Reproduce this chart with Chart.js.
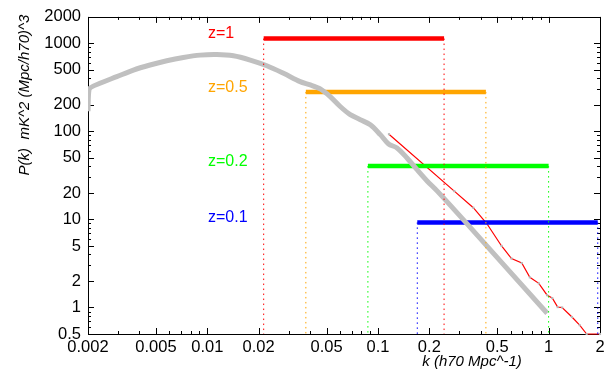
<!DOCTYPE html>
<html>
<head>
<meta charset="utf-8">
<script src="https://cdn.jsdelivr.net/npm/chart.js@4"></script>
<style>
  html, body { margin: 0; padding: 0; background: #fff; }
  canvas { display: block; }
</style>
</head>
<body>
<canvas id="pkChart" width="615" height="372"></canvas>
<script>
// tick labels
const xTicks = [0.002, 0.005, 0.01, 0.02, 0.05, 0.1, 0.2, 0.5, 1, 2];
const yTicks = [0.5, 1, 2, 5, 10, 20, 50, 100, 200, 500, 1000, 2000];

// grey model power spectrum
const modelK = [0.002, 0.00203, 0.00235, 0.00295, 0.00369, 0.00462, 0.00579, 0.00724, 0.00908, 0.01137,
    0.01423, 0.01785, 0.02234, 0.02796, 0.035, 0.0401, 0.0459, 0.0525, 0.0601, 0.0688, 0.0788,
    0.0902, 0.1032, 0.1154, 0.1293, 0.148, 0.169, 0.194, 0.222, 0.333, 0.98];
const modelP = [170, 301, 352, 419, 498, 568, 635, 692, 736, 748,
    723, 647, 557, 457, 368, 338, 304, 249, 192, 155, 136,
    119, 92, 72, 65, 50, 37, 27.4, 21.1, 8.9, 0.86];

// thin red measured curve
const measK = [0.116, 0.28, 0.362, 0.434, 0.53, 0.606, 0.696, 0.776, 0.876, 0.98, 1.05, 1.13, 1.2, 1.37, 1.52, 1.67, 2.0];
const measP = [93, 21, 13.6, 9.0, 5.0, 3.6, 3.2, 2.2, 1.88, 1.38, 1.28, 1.01, 1.0, 0.78, 0.63, 0.5, 0.5];

// redshift bands
const zLabels = ['z=1', 'z=0.5', 'z=0.2', 'z=0.1'];
const zColors = ['#ff0000', '#ffa500', '#00ff00', '#0000ff'];
const zLevel = [1135, 281, 40.4, 9.26];
const zKmin = [0.0214, 0.0378, 0.0873, 0.170];
const zKmax = [0.244, 0.429, 1.0, 1.94];
const zLabelP = [1280, 315, 46, 10.5];
const zLabelK = 0.0101;

const yMin = 0.5;
const fontFamily = '"Liberation Sans", Arial, sans-serif';

const datasets = [];

zLabels.forEach((name, i) => {
    // dotted drops
    [zKmin[i], zKmax[i]].forEach(k => {
        datasets.push({
            data: [{ x: k, y: zLevel[i] }, { x: k, y: yMin }],
            borderColor: zColors[i],
            borderWidth: 1,
            borderDash: [1.5, 3.5],
            pointRadius: 0
        });
    });
});

datasets.push({
    data: modelK.map((k, i) => ({ x: k, y: modelP[i] })),
    borderColor: '#c0c0c0',
    borderWidth: 5,
    pointRadius: 0,
    tension: 0.3
});

zLabels.forEach((name, i) => {
    datasets.push({
        data: [{ x: zKmin[i], y: zLevel[i] }, { x: zKmax[i], y: zLevel[i] }],
        borderColor: zColors[i],
        borderWidth: 4.5,
        borderCapStyle: 'butt',
        pointRadius: 0
    });
});

datasets.push({
    data: measK.map((k, i) => ({ x: k, y: measP[i] })),
    borderColor: '#ff0000',
    borderWidth: 1.2,
    clip: 2,
    pointStyle: 'rect',
    pointRadius: 1.5,
    pointBackgroundColor: '#b8b8b8',
    pointBorderWidth: 0
});

const logTicks = (min, max) => {
    const out = [];
    for (let n = Math.floor(Math.log10(min)); n <= Math.ceil(Math.log10(max)); n++) {
        for (let m = 1; m <= 9; m++) {
            const v = +(m * Math.pow(10, n)).toPrecision(6);
            if (v >= min && v <= max) out.push(v);
        }
    }
    return out;
};

const decorations = {
    id: 'decorations',
    beforeDatasetsDraw(chart) {
        const ctx = chart.ctx;
        const area = chart.chartArea;
        const xs = chart.scales.x;
        const ys = chart.scales.y;
        ctx.save();

        // frame
        ctx.strokeStyle = '#000';
        ctx.lineWidth = 1;
        ctx.strokeRect(Math.round(area.left) + 0.5, Math.round(area.top) + 0.5,
            Math.round(area.right - area.left), Math.round(area.bottom - area.top));

        // inner log ticks on all four sides
        ctx.beginPath();
        logTicks(xs.min, xs.max).forEach(v => {
            const len = xTicks.includes(v) ? 6 : 3;
            const px = Math.round(xs.getPixelForValue(v)) + 0.5;
            ctx.moveTo(px, area.bottom); ctx.lineTo(px, area.bottom - len);
            ctx.moveTo(px, area.top); ctx.lineTo(px, area.top + len);
        });
        logTicks(ys.min, ys.max).forEach(v => {
            const len = yTicks.includes(v) ? 6 : 3;
            const py = Math.round(ys.getPixelForValue(v)) + 0.5;
            ctx.moveTo(area.left, py); ctx.lineTo(area.left + len, py);
            ctx.moveTo(area.right, py); ctx.lineTo(area.right - len, py);
        });
        ctx.stroke();
        ctx.restore();
    },
    afterDraw(chart) {
        const ctx = chart.ctx;
        const xs = chart.scales.x;
        const ys = chart.scales.y;
        ctx.save();

        // redshift labels
        ctx.font = '16px ' + fontFamily;
        ctx.textAlign = 'left';
        ctx.textBaseline = 'middle';
        zLabels.forEach((name, i) => {
            ctx.fillStyle = zColors[i];
            ctx.fillText(name, xs.getPixelForValue(zLabelK), ys.getPixelForValue(zLabelP[i]));
        });

        // axis titles
        ctx.fillStyle = '#000';
        ctx.font = 'italic 15px ' + fontFamily;
        ctx.textAlign = 'center';
        ctx.fillText('k (h70 Mpc^-1)', 472, 362);
        ctx.translate(25, 95);
        ctx.rotate(-Math.PI / 2);
        ctx.fillText('P(k)  mK^2 (Mpc/h70)^3', 0, 0);

        ctx.restore();
    }
};

new Chart(document.getElementById('pkChart'), {
    type: 'line',
    data: { datasets: datasets },
    options: {
        responsive: false,
        animation: false,
        devicePixelRatio: 1,
        layout: { padding: { left: 0, right: 15, top: 15, bottom: 0 } },
        plugins: {
            legend: { display: false },
            tooltip: { enabled: false }
        },
        scales: {
            x: {
                type: 'logarithmic',
                min: 0.002,
                max: 2,
                afterBuildTicks: scale => { scale.ticks = xTicks.map(v => ({ value: v })); },
                afterFit: scale => { scale.height = 38; },
                grid: { display: false, drawTicks: false },
                border: { display: false },
                ticks: {
                    autoSkip: false,
                    maxRotation: 0,
                    padding: 4,
                    color: '#000',
                    font: { family: fontFamily, size: 16.5 },
                    callback: v => String(v)
                }
            },
            y: {
                type: 'logarithmic',
                min: 0.5,
                max: 2000,
                afterBuildTicks: scale => { scale.ticks = yTicks.map(v => ({ value: v })); },
                afterFit: scale => { scale.width = 88; },
                grid: { display: false, drawTicks: false },
                border: { display: false },
                ticks: {
                    autoSkip: false,
                    padding: 7,
                    color: '#000',
                    font: { family: fontFamily, size: 16.5 },
                    callback: v => String(v)
                }
            }
        }
    },
    plugins: [decorations]
});
</script>
</body>
</html>
